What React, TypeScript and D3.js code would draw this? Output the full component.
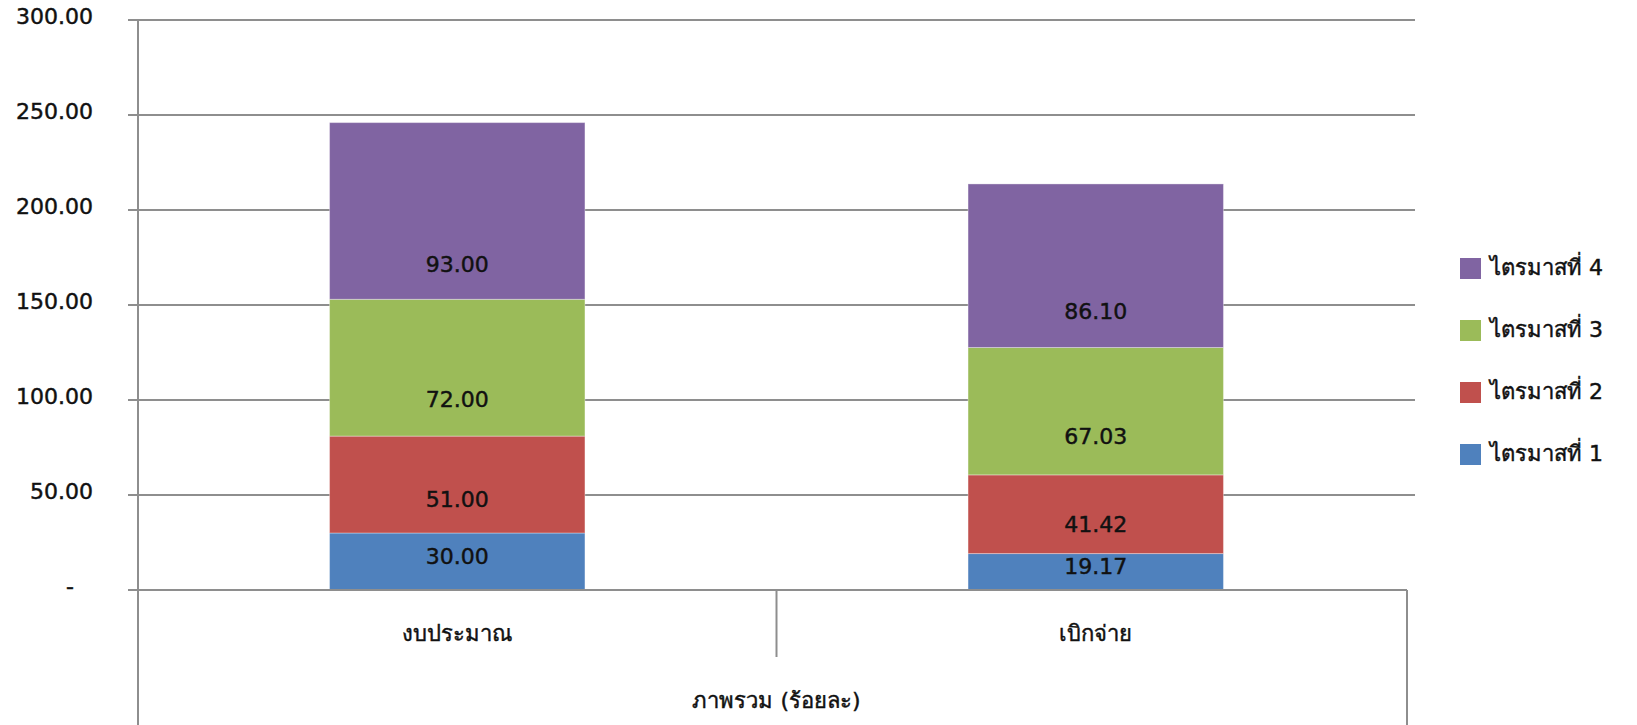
import * as React from 'react';
import { scaleBand, scaleLinear } from 'd3';

const categories = ['งบประมาณ', 'เบิกจ่าย'];
const seriesNames = ['ไตรมาสที่ 1', 'ไตรมาสที่ 2', 'ไตรมาสที่ 3', 'ไตรมาสที่ 4'];
const seriesColors = ['#4F81BD', '#C0504D', '#9BBB59', '#8064A2'];
const budget = [30.0, 51.0, 72.0, 93.0];
const spent = [19.17, 41.42, 67.03, 86.1];
const yTicks = [0, 50, 100, 150, 200, 250, 300];
const axisTitle = 'ภาพรวม (ร้อยละ)';

const values = [budget, spent];

const W = 1637;
const H = 725;
const plot = { left: 138, right: 1415, top: 20, bottom: 590 };
const baseRight = 1407;
const font = '"DejaVu Sans", "Noto Sans", sans-serif';
const gridColor = '#8e8e8e';
const textProps = {
  fontSize: 22,
  fontFamily: font,
  fill: '#111',
  stroke: '#111',
  strokeWidth: 0.45,
  dominantBaseline: 'central' as const,
};

const yScale = scaleLinear().domain([0, 300]).range([plot.bottom, plot.top]);
// data labels in the source sit on a compressed scale
const labelScale = scaleLinear().domain([0, 300]).range([plot.bottom, plot.bottom - 300 * 1.63]);
const xScale = scaleBand<string>().domain(categories).range([plot.left, plot.right]);
const barWidth = xScale.bandwidth() * 0.4;

const fmtTick = (v: number) => (v === 0 ? '-' : v.toFixed(2));

export default function App() {
  const bars = values.map((vals, ci) => {
    const cx = xScale(categories[ci])! + xScale.bandwidth() / 2;
    let acc = 0;
    return vals.map((v, si) => {
      const y0 = acc;
      acc += v;
      const mid = y0 + v / 2;
      // bottom segment label sits near the middle of its segment
      const ly = si === 0 ? yScale(mid) - 5 : labelScale(mid);
      return (
        <g key={`${ci}-${si}`}>
          <rect
            x={cx - barWidth / 2}
            y={yScale(acc)}
            width={barWidth}
            height={yScale(y0) - yScale(acc)}
            fill={seriesColors[si]}
            stroke="rgba(255,255,255,0.35)"
            strokeWidth={1}
          />
          <text {...textProps} x={cx} y={ly} textAnchor="middle">
            {v.toFixed(2)}
          </text>
        </g>
      );
    });
  });

  return (
    <svg width={W} height={H} style={{ position: 'absolute', left: 0, top: 0, background: '#fff' }}>
      {yTicks.map(t => (
        <g key={t}>
          {t > 0 && (
            <line x1={plot.left - 10} x2={plot.right} y1={yScale(t)} y2={yScale(t)} stroke={gridColor} strokeWidth={2} />
          )}
          <text {...textProps} x={t === 0 ? 70 : 93} y={yScale(t) - 4} textAnchor={t === 0 ? 'middle' : 'end'}>
            {fmtTick(t)}
          </text>
        </g>
      ))}
      {bars}
      {/* axes */}
      <line x1={plot.left} x2={plot.left} y1={plot.top} y2={H} stroke={gridColor} strokeWidth={2} />
      <line x1={plot.left - 10} x2={baseRight} y1={plot.bottom} y2={plot.bottom} stroke={gridColor} strokeWidth={2} />
      <line x1={baseRight} x2={baseRight} y1={plot.bottom} y2={H} stroke={gridColor} strokeWidth={2} />
      <line
        x1={xScale(categories[1])!}
        x2={xScale(categories[1])!}
        y1={plot.bottom}
        y2={657}
        stroke={gridColor}
        strokeWidth={2}
      />
      {categories.map(c => (
        <text key={c} {...textProps} x={xScale(c)! + xScale.bandwidth() / 2} y={633} textAnchor="middle">
          {c}
        </text>
      ))}
      <text {...textProps} x={(plot.left + plot.right) / 2} y={700} textAnchor="middle">
        {axisTitle}
      </text>
      {/* legend, top entry is the last series */}
      {seriesNames
        .map((name, i) => ({ name, color: seriesColors[i] }))
        .reverse()
        .map((d, i) => (
          <g key={d.name} transform={`translate(1460, ${258 + i * 62})`}>
            <rect width={21} height={21} fill={d.color} />
            <text {...textProps} x={30} y={9}>
              {d.name}
            </text>
          </g>
        ))}
    </svg>
  );
}
